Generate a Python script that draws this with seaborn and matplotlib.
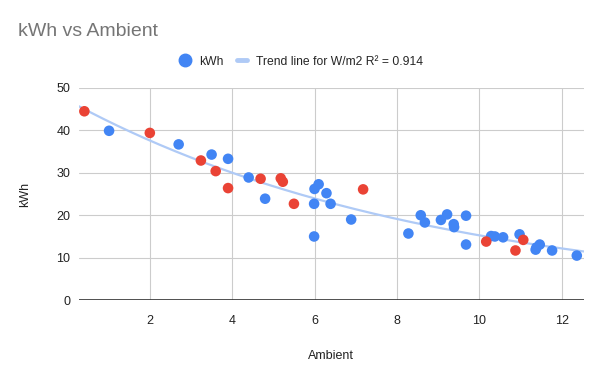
#!/usr/bin/env python3

import numpy as np
import pandas as pd
import matplotlib
matplotlib.use("Agg")
import matplotlib.pyplot as plt
import seaborn as sns
from matplotlib.lines import Line2D


# ambient temperature vs daily kWh (blue points)
AMBIENT_BLUE = [1.01, 2.70, 3.50, 3.90, 4.40, 4.80, 6.00, 6.10, 6.29, 6.39,
                5.99, 5.99, 6.89, 8.28, 8.58, 8.68, 9.07, 9.22, 9.38, 9.39,
                9.68, 9.68, 10.29, 10.38, 10.58, 10.98, 11.37, 11.39, 11.47,
                11.77, 12.37]
KWH_BLUE = [39.9, 36.7, 34.3, 33.3, 28.9, 23.9, 26.2, 27.3, 25.2, 22.7,
            22.7, 15.0, 19.0, 15.7, 20.0, 18.3, 18.9, 20.2, 17.9, 17.2,
            19.9, 13.1, 15.1, 15.0, 14.8, 15.5, 11.9, 12.4, 13.1,
            11.7, 10.5]

# highlighted points (red)
AMBIENT_RED = [0.41, 2.00, 3.24, 3.60, 3.90, 4.69, 5.18, 5.23, 5.50, 7.18,
               10.17, 10.88, 11.07]
KWH_RED = [44.5, 39.4, 32.9, 30.4, 26.4, 28.6, 28.7, 27.9, 22.7, 26.1,
           13.8, 11.7, 14.2]

TREND_LABEL = "Trend line for W/m2 R\u00b2 = 0.914"

BLUE = "#4285F4"
RED = "#EA4335"
TREND = "#AFCAF6"


def main():
    sns.set_theme(style="white")
    plt.rcParams["font.family"] = ["Liberation Sans", "DejaVu Sans"]

    blue = pd.DataFrame({"ambient": AMBIENT_BLUE, "kwh": KWH_BLUE})
    red = pd.DataFrame({"ambient": AMBIENT_RED, "kwh": KWH_RED})
    allpts = pd.concat([blue, red], ignore_index=True)

    # exponential trend, fitted on log(kWh) like the spreadsheet does
    b, ln_a = np.polyfit(allpts["ambient"], np.log(allpts["kwh"]), 1)
    xmin, xmax = 0.27, 12.54
    trend_x = np.linspace(xmin, xmax, 200)
    trend = pd.DataFrame({"ambient": trend_x, "kwh": np.exp(ln_a + b * trend_x)})

    fig = plt.figure(figsize=(6, 3.71), dpi=100)
    ax = fig.add_axes([0.131, 0.191, 0.842, 0.572])

    sns.lineplot(data=trend, x="ambient", y="kwh", color=TREND, lw=1.6,
                 ax=ax, zorder=2)
    sns.scatterplot(data=blue, x="ambient", y="kwh", color=BLUE, s=58,
                    edgecolor="none", ax=ax, zorder=3)
    sns.scatterplot(data=red, x="ambient", y="kwh", color=RED, s=58,
                    edgecolor="none", ax=ax, zorder=4)

    ax.set_xlim(xmin, xmax)
    ax.set_ylim(0, 50)
    ax.set_xticks([2, 4, 6, 8, 10, 12])
    ax.set_yticks([0, 10, 20, 30, 40, 50])
    ax.grid(True, color="#cccccc", lw=0.8)
    ax.set_axisbelow(True)
    for s in ax.spines.values():
        s.set_visible(False)
    ax.axhline(0, color="#333333", lw=1.2, zorder=1)
    ax.tick_params(axis="both", length=0, labelsize=9, labelcolor="#222222")
    ax.tick_params(axis="x", pad=11)
    ax.tick_params(axis="y", pad=6)

    ax.set_xlabel("Ambient", fontsize=9, color="#222222", labelpad=16)
    ax.set_ylabel("kWh", fontsize=9, color="#222222", labelpad=18)

    fig.text(0.03, 0.915, "kWh vs Ambient", fontsize=14, color="#757575",
             va="center", ha="left")

    handles = [
        Line2D([], [], marker="o", ls="none", color=BLUE, markersize=9),
        Line2D([], [], color=TREND, lw=3.5),
    ]
    fig.legend(handles, ["kWh", TREND_LABEL], loc="center",
               bbox_to_anchor=(0.502, 0.834), ncol=2, frameon=False,
               fontsize=8.7, handlelength=0.9, columnspacing=1.1,
               handletextpad=0.7)

    fig.savefig("out.png", dpi=100)
    plt.close(fig)


if __name__ == "__main__":
    main()
